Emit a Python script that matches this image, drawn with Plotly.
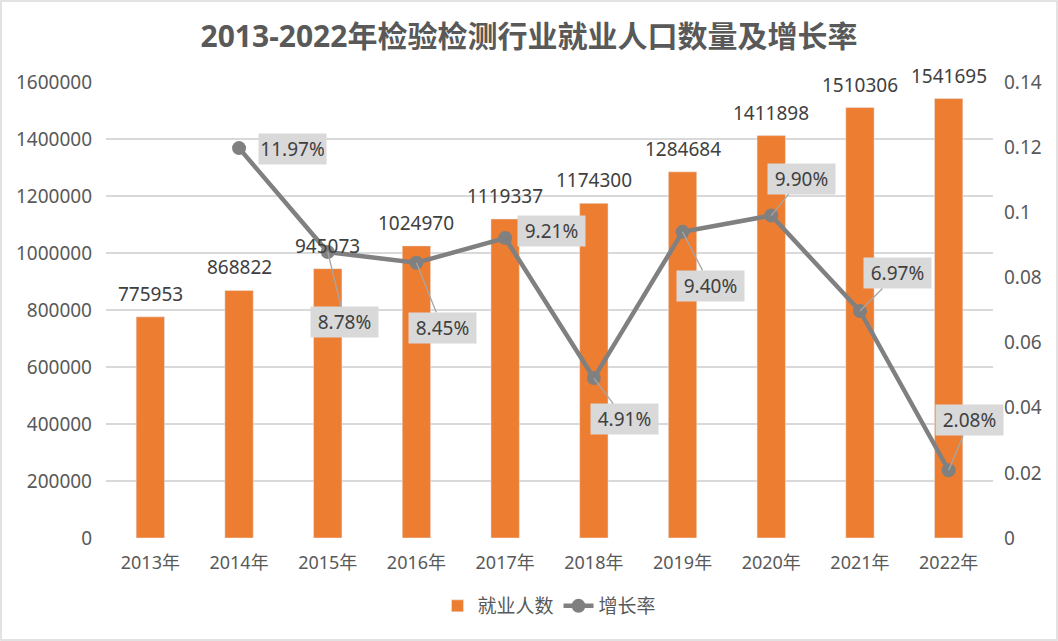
import plotly.graph_objects as go

years = ["2013年", "2014年", "2015年", "2016年", "2017年", "2018年", "2019年", "2020年", "2021年", "2022年"]
employees = [775953, 868822, 945073, 1024970, 1119337, 1174300, 1284684, 1411898, 1510306, 1541695]
growth = [None, 0.1197, 0.0878, 0.0845, 0.0921, 0.0491, 0.0940, 0.0990, 0.0697, 0.0208]
left_ticks = [0, 200000, 400000, 600000, 800000, 1000000, 1200000, 1400000, 1600000]
right_ticks = [0, 0.02, 0.04, 0.06, 0.08, 0.1, 0.12, 0.14]

# label offsets (pixels) for growth labels: (ax, ay, show leader)
label_offsets = [None, (53, 1, False), (17, 70, True), (26, 65, True), (46, -7, False),
                 (31, 41, True), (28, 54, True), (30, -37, True), (38, -38, True), (21, -50, True)]

W, H = 1058, 641
ML, MR, MT, MB = 106, 65, 82, 103
FONT = "Noto Sans, Noto Sans CJK SC, sans-serif"

fig = go.Figure()
fig.add_trace(go.Bar(
    x=years, y=employees, name="就业人数", marker_color="#ED7D31",
    width=0.32, yaxis="y"
))
fig.add_trace(go.Scatter(
    x=years, y=growth, name="增长率", yaxis="y2", mode="lines+markers",
    line=dict(color="#808080", width=4.5), marker=dict(color="#808080", size=14),
    connectgaps=False
))

annotations = []
for yr, v in zip(years, employees):
    annotations.append(dict(
        x=yr, y=v, xref="x", yref="y", text=str(v), showarrow=False,
        yshift=23, font=dict(family=FONT, size=19, color="#404040")
    ))
for yr, g, off in zip(years, growth, label_offsets):
    if g is None:
        continue
    ax, ay, lead = off
    annotations.append(dict(
        x=yr, y=g, xref="x", yref="y2", text=f"{g*100:.2f}%",
        showarrow=True, arrowhead=0, arrowwidth=1.3,
        arrowcolor="#A6A6A6" if lead else "rgba(0,0,0,0)",
        ax=ax, ay=ay, axref="pixel", ayref="pixel",
        bgcolor="#D9D9D9", borderpad=2, width=63, height=26,
        font=dict(family=FONT, size=19, color="#404040")
    ))

pw = W - ML - MR
ph = H - MT - MB
fig.add_shape(type="rect", xref="paper", yref="paper",
              x0=-(ML - 1) / pw, x1=1 + (MR - 1) / pw,
              y0=-(MB - 1) / ph, y1=1 + (MT - 1) / ph,
              line=dict(color="#D9D9D9", width=1.5), layer="below")

fig.update_layout(
    width=W, height=H,
    margin=dict(l=ML, r=MR, t=MT, b=MB, autoexpand=False),
    paper_bgcolor="white", plot_bgcolor="white",
    font=dict(family=FONT, size=19, color="#595959"),
    title=dict(text="<b>2013-2022年检验检测行业就业人口数量及增长率</b>",
               x=0.5, xref="container", xanchor="center", y=1 - 36 / H, yref="container",
               yanchor="middle",
               font=dict(family=FONT, size=30, color="#595959")),
    xaxis=dict(type="category", range=[-0.5, len(years) - 0.5], showgrid=False,
               showline=False, ticks="",
               automargin=False, ticklabelstandoff=12,
               tickfont=dict(size=18, color="#595959")),
    yaxis=dict(range=[0, 1600000], tickvals=left_ticks, tickformat="d",
               showgrid=True, gridcolor="#D9D9D9", gridwidth=1.5, zeroline=False,
               showline=False, ticks="", automargin=False, ticklabelstandoff=13,
               tickfont=dict(size=19, color="#595959")),
    yaxis2=dict(range=[0, 0.14], tickvals=right_ticks, overlaying="y", side="right",
                showgrid=False, zeroline=False, showline=False, ticks="",
                automargin=False, ticklabelstandoff=10,
                tickfont=dict(size=19, color="#595959")),
    legend=dict(orientation="h", x=0.5, xanchor="center", y=-(606 - 538) / ph,
                yanchor="middle",
                font=dict(size=19, color="#595959"), traceorder="normal",
                itemwidth=30),
    annotations=annotations,
    showlegend=True,
)

fig.write_html("out.html", config={"displayModeBar": False},
               post_script="document.body.style.margin='0';")
